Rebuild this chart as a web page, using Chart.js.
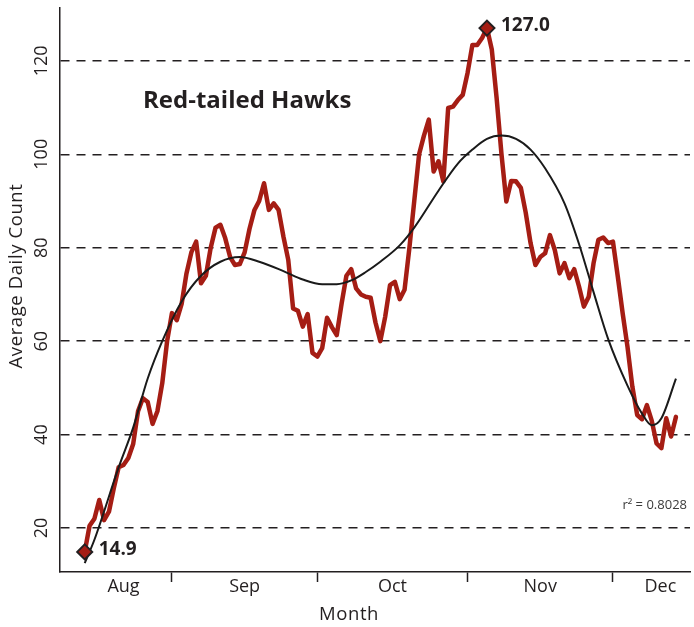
<!DOCTYPE html>
<html>
<head>
<meta charset="utf-8">
<script src="https://cdn.jsdelivr.net/npm/chart.js@4.4.0/dist/chart.umd.min.js"></script>
<style>
  html, body { margin: 0; padding: 0; background: #fff; }
</style>
</head>
<body>
<canvas id="hawk-chart" width="694" height="627"></canvas>
<script>
// days counted from Aug 1 (Aug 1 = 0, Sep 1 = 31, Oct 1 = 61, Nov 1 = 92, Dec 1 = 122)
const dayNumbers = [
  13, 14, 15, 16, 17, 18, 19, 20, 21, 22, 23, 24, 25, 26, 27, 28, 29, 30,
  31, 32, 33, 34, 35, 36, 37, 38, 39, 40, 41, 42, 43, 44, 45, 46, 47, 48, 49, 50,
  51, 52, 53, 54, 55, 56, 57, 58, 59, 60, 61, 62, 63, 64, 65, 66, 67, 68, 69, 70,
  71, 72, 73, 74, 75, 76, 77, 78, 79, 80, 81, 82, 83, 84, 85, 86, 87, 88, 89, 90,
  91, 92, 93, 94, 95, 96, 97, 98, 99, 100, 101, 102, 103, 104, 105, 106, 107, 108, 109, 110,
  111, 112, 113, 114, 115, 116, 117, 118, 119, 120, 121, 122, 123, 124, 125, 126, 127, 128, 129, 130,
  131, 132, 133, 134, 135
];
const dailyCounts = [
  14.9, 20.5, 22, 26, 21.7, 23.5, 28.5, 33, 33.5, 35, 38, 45, 47.8, 47, 42.3, 45, 51, 60,
  66, 64.5, 68, 74.5, 79, 81.3, 72.4, 74, 80, 84.3, 84.9, 82, 78, 76.3, 76.5, 79, 84, 88, 90, 93.8,
  88.1, 89.5, 88.1, 82.4, 77.4, 67, 66.5, 63.1, 65.8, 57.5, 56.7, 58.5, 65, 63, 61.3, 68, 74, 75.4, 71.3, 70,
  69.5, 69.3, 64, 60, 65.2, 72, 72.7, 69, 71, 80, 90, 100, 104, 107.4, 96.3, 98.5, 94.2, 109.9, 110.2, 111.6,
  112.7, 117.4, 123.4, 123.4, 124.9, 127.0, 122.4, 112, 100, 89.9, 94.3, 94.2, 92.8, 87.5, 81, 76.3, 78, 78.8, 82.7, 79.5,
  74.5, 76.7, 73.5, 75.4, 71.7, 67.4, 69.5, 76.7, 81.7, 82.2, 81, 81.3, 73.8, 66, 58.8, 50.3, 44.2, 43.3, 46.3, 43,
  38.1, 37.1, 43.5, 39.6, 43.8
];

// polynomial trend line
const trendDays = [13, 15, 20, 23, 26, 29, 33, 37, 41, 45, 49, 54, 58, 62, 65, 68, 71, 74, 78, 81,
  86, 90, 93, 96, 99, 102, 105, 108, 112, 115, 118, 121, 125, 128, 130, 132, 135];
const trendCounts = [12.5, 17.5, 33, 41.5, 52, 60, 68.5, 74, 77, 78, 77, 75, 73.2, 72.2, 72.2, 73, 74.8, 77, 80.5, 84.3,
  92.2, 98, 101, 103.3, 104, 103.3, 101, 97, 89.5, 80.8, 70.5, 60.5, 50.5, 44.5, 42, 43.5, 52];

const monthNames = ['Aug', 'Sep', 'Oct', 'Nov', 'Dec'];
const monthLabelDays = [21, 46, 76.5, 107, 131.8];
const monthStartDays = [31, 61, 92, 122];
const yTickValues = [20, 40, 60, 80, 100, 120];
const speciesName = 'Red-tailed Hawks';
const rSquared = '0.8028';

const FONT = "'Open Sans', 'DejaVu Sans', sans-serif";
const INK = '#231f20';
const RED = '#a51d14';

const peakIdx = dailyCounts.indexOf(Math.max(...dailyCounts));
const markerIdx = [0, peakIdx];

const xTickValues = [...monthLabelDays, ...monthStartDays].sort((a, b) => a - b);

const textPlugin = {
  id: 'hawkText',
  afterDatasetsDraw(chart) {
    const { ctx, chartArea, scales } = chart;
    ctx.save();
    ctx.fillStyle = INK;
    ctx.textBaseline = 'middle';

    // species title
    ctx.font = `bold 24px ${FONT}`;
    ctx.textAlign = 'left';
    ctx.fillText(speciesName, chartArea.left + 83, 101);

    // value labels beside the diamonds
    ctx.font = `bold 19px ${FONT}`;
    markerIdx.forEach(i => {
      const px = scales.x.getPixelForValue(dayNumbers[i]);
      const py = scales.y.getPixelForValue(dailyCounts[i]);
      ctx.fillText(dailyCounts[i].toFixed(1), px + 14, py - 2);
    });

    // r squared
    ctx.font = `13px ${FONT}`;
    ctx.fillStyle = '#3a3a3a';
    ctx.textAlign = 'right';
    ctx.fillText('r\u00B2 = ' + rSquared, chartArea.right - 3, chartArea.bottom - 67);

    // axis titles
    ctx.fillStyle = INK;
    ctx.font = `18.5px ${FONT}`;
    ctx.letterSpacing = '0.6px';
    ctx.textAlign = 'center';
    ctx.fillText('Month', 349, 615);
    ctx.translate(17, 276);
    ctx.rotate(-Math.PI / 2);
    ctx.fillText('Average Daily Count', 0, 0);
    ctx.restore();
  }
};

new Chart(document.getElementById('hawk-chart'), {
  type: 'line',
  data: {
    datasets: [
      {
        label: 'markers',
        data: markerIdx.map(i => ({ x: dayNumbers[i], y: dailyCounts[i] })),
        showLine: false,
        pointStyle: 'rectRot',
        pointRadius: 7.5,
        backgroundColor: RED,
        borderColor: INK,
        borderWidth: 2,
        clip: false,
        order: 1,
      },
      {
        label: 'trend',
        data: trendDays.map((d, i) => ({ x: d, y: trendCounts[i] })),
        borderColor: '#1a1a1a',
        borderWidth: 2,
        pointRadius: 0,
        cubicInterpolationMode: 'monotone',
        order: 2,
      },
      {
        label: speciesName,
        data: dayNumbers.map((d, i) => ({ x: d, y: dailyCounts[i] })),
        borderColor: RED,
        borderWidth: 4.5,
        pointRadius: 0,
        tension: 0,
        borderJoinStyle: 'round',
        borderCapStyle: 'round',
        order: 3,
      },
    ],
  },
  options: {
    responsive: false,
    animation: false,
    devicePixelRatio: 1,
    layout: { autoPadding: false, padding: { left: 0, right: 4, top: 8, bottom: 0 } },
    plugins: { legend: { display: false }, tooltip: { enabled: false } },
    scales: {
      x: {
        type: 'linear',
        min: 7.9,
        max: 137.9,
        afterBuildTicks: (scale) => { scale.ticks = xTickValues.map(v => ({ value: v })); },
        afterFit: (scale) => { scale.height = 55; scale.paddingLeft = 0; scale.paddingRight = 0; },
        grid: {
          drawOnChartArea: false,
          drawTicks: true,
          tickLength: 10,
          tickWidth: 1.5,
          tickColor: (c) => (c.tick && monthStartDays.includes(c.tick.value) ? INK : 'rgba(0,0,0,0)'),
        },
        border: { display: true, color: INK, width: 1.5 },
        ticks: {
          autoSkip: false,
          maxRotation: 0,
          padding: -6,
          color: INK,
          font: { family: FONT, size: 18 },
          callback: (v) => {
            const k = monthLabelDays.indexOf(v);
            return k >= 0 ? monthNames[k] : '';
          },
        },
      },
      y: {
        min: 10.6,
        max: 131.3,
        afterBuildTicks: (scale) => { scale.ticks = yTickValues.map(v => ({ value: v })); },
        afterFit: (scale) => { scale.width = 60; scale.paddingTop = 0; scale.paddingBottom = 0; },
        grid: {
          drawTicks: false,
          color: INK,
          lineWidth: 1.5,
        },
        border: { display: true, color: INK, width: 1.5, dash: [9, 7] },
        ticks: {
          minRotation: 90,
          maxRotation: 90,
          crossAlign: 'center',
          padding: 3,
          color: INK,
          font: { family: FONT, size: 18 },
        },
      },
    },
  },
  plugins: [textPlugin],
});
</script>
</body>
</html>
